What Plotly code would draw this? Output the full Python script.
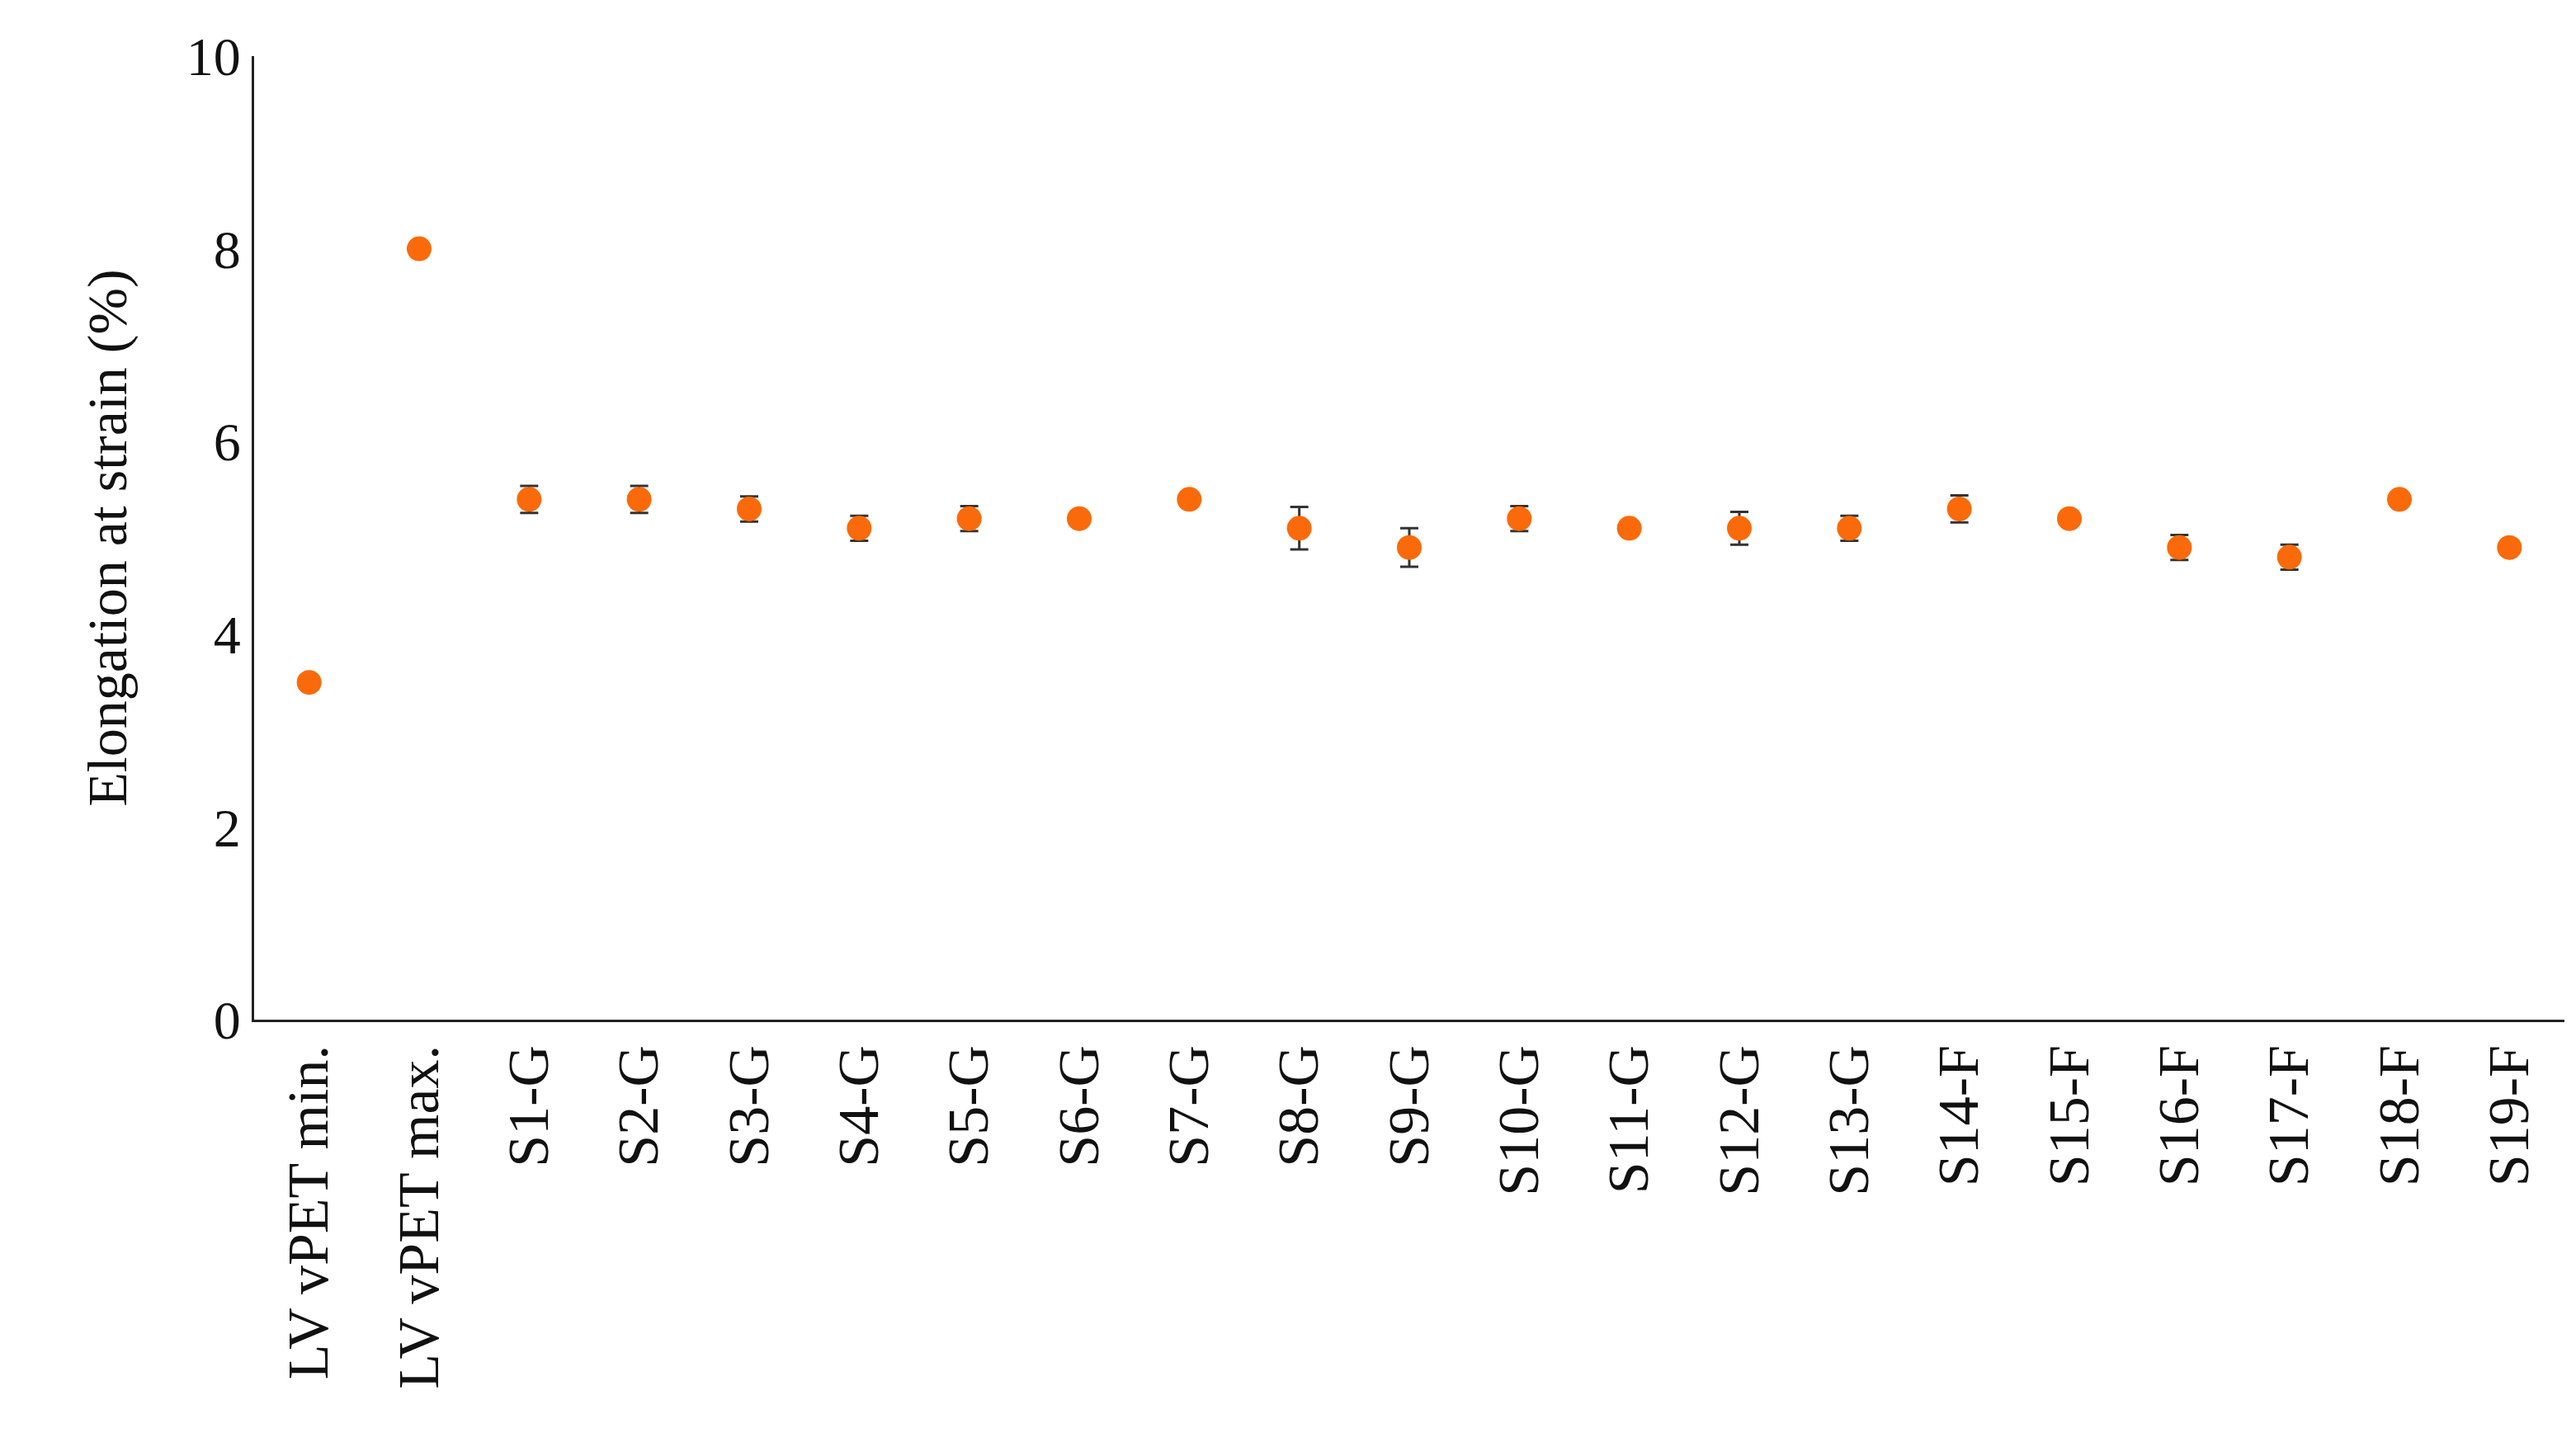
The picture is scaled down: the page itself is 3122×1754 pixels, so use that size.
import plotly.graph_objects as go

categories = ["LV vPET min.", "LV vPET max.", "S1-G", "S2-G", "S3-G", "S4-G", "S5-G", "S6-G",
              "S7-G", "S8-G", "S9-G", "S10-G", "S11-G", "S12-G", "S13-G", "S14-F", "S15-F",
              "S16-F", "S17-F", "S18-F", "S19-F"]
values = [3.5, 8.0, 5.4, 5.4, 5.3, 5.1, 5.2, 5.2, 5.4, 5.1, 4.9, 5.2, 5.1, 5.1, 5.1, 5.3, 5.2,
          4.9, 4.8, 5.4, 4.9]
errors = [0, 0, 0.14, 0.14, 0.13, 0.13, 0.13, 0, 0, 0.22, 0.2, 0.13, 0, 0.17, 0.13, 0.14, 0,
          0.13, 0.13, 0, 0]
y_ticks = [0, 2, 4, 6, 8, 10]

font = "Liberation Serif"
fig = go.Figure(go.Scatter(
    x=list(range(len(categories))), y=values, mode="markers",
    marker=dict(color="#FA6A0A", size=30),
    error_y=dict(type="data", array=errors, visible=True, color="#333333", thickness=3, width=11),
))
fig.update_layout(
    width=3122, height=1754, paper_bgcolor="white", plot_bgcolor="white",
    margin=dict(l=300, r=22, t=60, b=526),
    font=dict(family=font, size=66, color="#111111"),
    showlegend=False,
)
fig.update_xaxes(range=[-0.5, 20.5], tickvals=list(range(len(categories))), ticktext=categories,
                 showline=True, linecolor="#222222", linewidth=3, showgrid=False, zeroline=False,
                 tickangle=-90, tickfont=dict(size=70), ticks="")
fig.update_yaxes(range=[0, 10], tickvals=y_ticks, showline=True, linecolor="#222222", linewidth=3,
                 showgrid=False, zeroline=False, ticks="", tickfont=dict(size=66),
                 title=dict(text="Elongation at strain (%)", font=dict(size=68), standoff=50))
fig.write_html("out.html")
